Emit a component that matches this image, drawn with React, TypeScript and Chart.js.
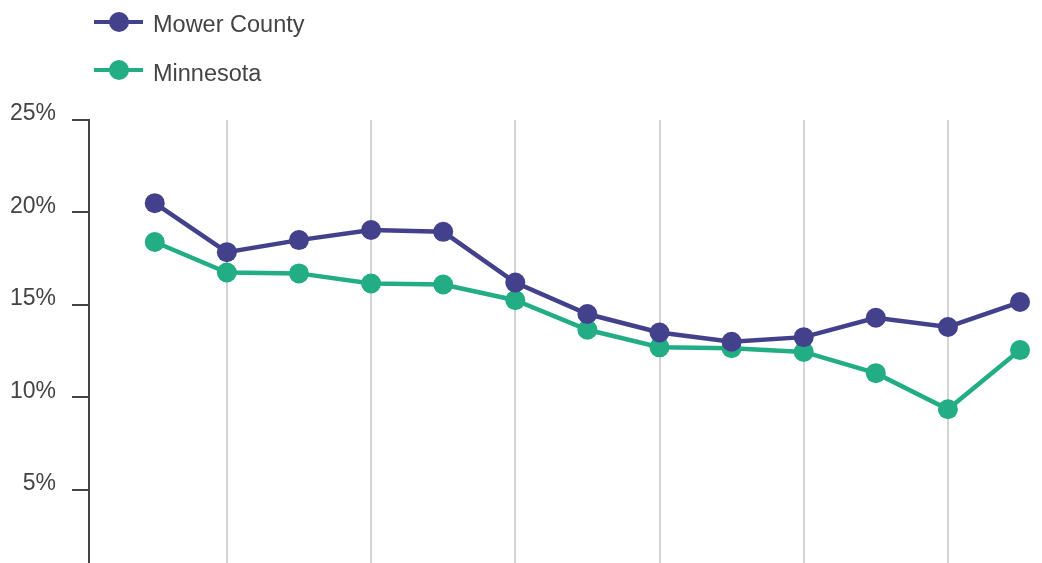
import React, { useEffect, useRef } from "react";
import { Chart, registerables } from "chart.js";

Chart.register(...registerables);

const periods = [0, 1, 2, 3, 4, 5, 6, 7, 8, 9, 10, 11, 12];
const mowerCounty = [20.5, 17.85, 18.5, 19.05, 18.95, 16.2, 14.5, 13.5, 13.0, 13.25, 14.3, 13.8, 15.15];
const minnesota = [18.4, 16.75, 16.7, 16.15, 16.1, 15.25, 13.65, 12.7, 12.65, 12.45, 11.3, 9.35, 12.55];
const gridPeriods = [1, 3, 5, 7, 9, 11];
const yTicks = [0, 5, 10, 15, 20, 25];

const PURPLE = "#44418C";
const GREEN = "#22AD84";
const TEXT = "#444444";
const FONT = "'Liberation Sans', Arial, sans-serif";

const seriesList = [
  { name: "Mower County", values: mowerCounty, color: PURPLE },
  { name: "Minnesota", values: minnesota, color: GREEN },
];

export default function App() {
  const ref = useRef<HTMLCanvasElement | null>(null);

  useEffect(() => {
    if (!ref.current) return;
    const chart = new Chart(ref.current, {
      type: "line",
      data: {
        datasets: seriesList.map((s) => ({
          label: s.name,
          data: s.values.map((v, i) => ({ x: periods[i], y: v })),
          borderColor: s.color,
          backgroundColor: s.color,
          pointBackgroundColor: s.color,
          pointBorderColor: s.color,
          pointBorderWidth: 0,
          pointRadius: 10,
          borderWidth: 4.5,
          tension: 0,
          clip: false as any,
        })),
      },
      options: {
        animation: false,
        responsive: false,
        maintainAspectRatio: false,
        layout: { padding: { top: 120, bottom: 30, left: 0, right: 8 } },
        plugins: { legend: { display: false }, tooltip: { enabled: false } },
        scales: {
          x: {
            type: "linear",
            min: -0.912,
            max: 12.166,
            afterBuildTicks: (scale: any) => {
              scale.ticks = gridPeriods.map((v) => ({ value: v }));
            },
            ticks: { display: false },
            grid: { color: "#d4d4d4", lineWidth: 2, drawTicks: false },
            border: { display: false },
          },
          y: {
            min: 0,
            max: 25,
            afterBuildTicks: (scale: any) => {
              scale.ticks = yTicks.map((v) => ({ value: v }));
            },
            afterFit: (scale: any) => {
              scale.width = 89;
            },
            ticks: {
              color: TEXT,
              font: { family: FONT, size: 23 },
              padding: 16,
              labelOffset: -6,
              callback: (v: any) => `${v}%`,
            },
            grid: {
              drawOnChartArea: false,
              drawTicks: true,
              tickLength: 17,
              color: TEXT,
              lineWidth: 2,
            },
            border: { display: true, color: TEXT, width: 2 },
          },
        },
      },
    });
    return () => chart.destroy();
  }, []);

  return (
    <div style={{ position: "fixed", left: 0, top: 0, width: 1042, height: 612, background: "#fff" }}>
      <canvas ref={ref} width={1042} height={612} style={{ position: "absolute", left: 0, top: 0 }} />
      {seriesList.map((s, i) => (
        <div key={s.name} style={{ position: "absolute", left: 94, top: 22 + i * 48 - 15, height: 30, width: 400 }}>
          <div style={{ position: "absolute", left: 0, top: 13, width: 49, height: 4, background: s.color }} />
          <div style={{ position: "absolute", left: 14.5, top: 5, width: 20, height: 20, borderRadius: 10, background: s.color }} />
          <div
            style={{
              position: "absolute",
              left: 59,
              top: 1.5 + i * 1.5,
              lineHeight: "30px",
              fontFamily: FONT,
              fontSize: 23.5,
              color: TEXT,
              whiteSpace: "nowrap",
            }}
          >
            {s.name}
          </div>
        </div>
      ))}
    </div>
  );
}
